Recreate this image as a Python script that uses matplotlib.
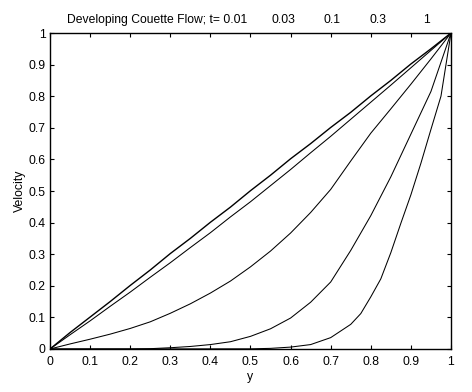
import numpy as np
import matplotlib
matplotlib.use('Agg')
import matplotlib.pyplot as plt

plt.rcParams['font.family'] = ['Liberation Sans', 'DejaVu Sans']
plt.rcParams['font.size'] = 8.8

# position across the channel
y = [0.00, 0.05, 0.10, 0.15, 0.20, 0.25, 0.30, 0.35, 0.40, 0.45, 0.50,
     0.55, 0.60, 0.65, 0.70, 0.75, 0.80, 0.85, 0.90, 0.95, 1.00]
y_fine = [0.00, 0.50, 0.55, 0.60, 0.65, 0.70, 0.75, 0.775, 0.80, 0.825,
          0.85, 0.875, 0.90, 0.925, 0.95, 0.975, 0.99, 1.00]

# velocity profiles, one per time
u_t001 = [0, 0.0005, 0.002, 0.006, 0.014, 0.036, 0.078, 0.112, 0.165, 0.222,
          0.305, 0.398, 0.488, 0.588, 0.695, 0.800, 0.920, 1.0]
u_t003 = [0, 0, 0, 0, 0, 0.001, 0.004, 0.008, 0.014, 0.023, 0.040,
          0.064, 0.098, 0.148, 0.212, 0.312, 0.422, 0.545, 0.680, 0.815, 1.0]
u_t01 = [0, 0.016, 0.031, 0.047, 0.065, 0.086, 0.113, 0.143, 0.177, 0.215, 0.260,
         0.310, 0.367, 0.432, 0.505, 0.595, 0.683, 0.760, 0.838, 0.918, 1.0]
u_t03 = [0, 0.045, 0.089, 0.135, 0.180, 0.227, 0.273, 0.321, 0.368, 0.418, 0.466,
         0.517, 0.568, 0.621, 0.673, 0.727, 0.781, 0.835, 0.890, 0.945, 1.0]
u_t1 = [0, 0.052, 0.101, 0.150, 0.201, 0.250, 0.302, 0.350, 0.401, 0.449, 0.501,
        0.550, 0.602, 0.650, 0.701, 0.749, 0.801, 0.850, 0.902, 0.950, 1.0]

tick_labels = ['0', '0.1', '0.2', '0.3', '0.4', '0.5', '0.6', '0.7', '0.8', '0.9', '1']
times = ['0.03', '0.1', '0.3', '1']

fig = plt.figure(figsize=(4.72, 3.92), dpi=100)
ax = fig.add_axes([0.1059, 0.1097, 0.8496, 0.8061])

ax.plot(y_fine, u_t001, 'k-', lw=0.75)
for u in (u_t003, u_t01, u_t03):
  ax.plot(y, u, 'k-', lw=0.75)
ax.plot(y, u_t1, 'k-', lw=1.0)

ax.set_xlim(0, 1)
ax.set_ylim(0, 1)
ax.set_xticks(np.linspace(0, 1, 11))
ax.set_yticks(np.linspace(0, 1, 11))
ax.set_xticklabels(tick_labels)
ax.set_yticklabels(tick_labels)
ax.tick_params(direction='in', length=3, width=0.8, top=True, right=True)
ax.tick_params(axis='y', pad=3)
ax.tick_params(axis='x', pad=5)
for s in ax.spines.values():
  s.set_linewidth(1.0)

# title, spaced out like the original
ax.text(0.492, 1.033, 'Developing Couette Flow; t= 0.01', transform=ax.transAxes,
        ha='right', va='baseline', fontsize=8.7)
for xp, t in zip([0.581, 0.703, 0.818, 0.940], times):
  ax.text(xp, 1.033, t, transform=ax.transAxes, ha='center', va='baseline', fontsize=8.7)

ax.set_xlabel('y', labelpad=2)
ax.set_ylabel('Velocity', labelpad=2)

plt.savefig('out.png', dpi=100)
